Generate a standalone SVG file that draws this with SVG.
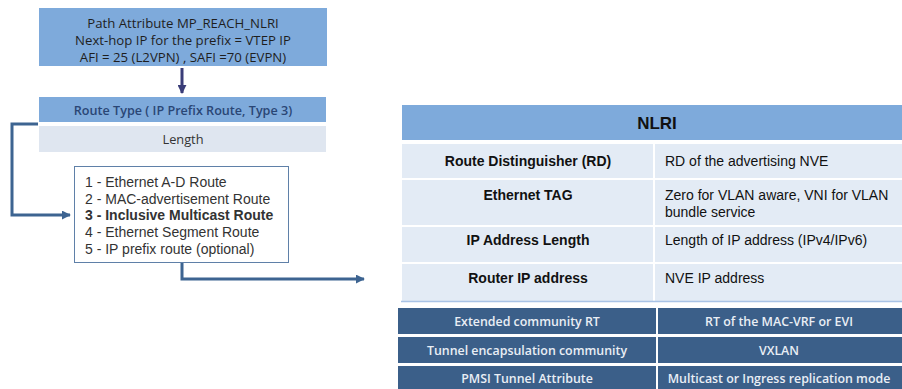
<svg xmlns="http://www.w3.org/2000/svg" width="902" height="389" viewBox="0 0 902 389">
<style>
.cal{font-family:"Open Sans","Liberation Sans",sans-serif}
.ar{font-family:"Liberation Sans",Arial,sans-serif}
.conn{fill:none;stroke:#3d6491;stroke-width:3}
.nl{fill:#e3ebf5}
.dk{fill:#3b5f89}
.lt{fill:#e9eef5;font-size:12.4px;font-weight:600;text-anchor:middle}
.lab{font-size:14px;font-weight:bold;fill:#111;text-anchor:middle}
.val{font-size:14px;fill:#111}
.li{font-size:14px;fill:#333}
.top{font-size:13.2px;fill:#1e1e1e;text-anchor:middle}
</style>
<defs>
<marker id="ah" viewBox="0 0 10 10" refX="9" refY="5" markerWidth="3" markerHeight="3" orient="auto" markerUnits="strokeWidth">
<path d="M0,0 L10,5 L0,10 z" fill="#3d6491"/>
</marker>
<marker id="ahd" viewBox="0 0 10 10" refX="9" refY="5" markerWidth="3" markerHeight="3" orient="auto" markerUnits="strokeWidth">
<path d="M0,0 L10,5 L0,10 z" fill="#3a3d78"/>
</marker>
</defs>
<rect width="902" height="389" fill="#fff"/>

<g id="path-attr">
<rect x="39" y="8" width="288" height="58" fill="#7eaadb"/>
<text class="cal top" x="183" y="28">Path Attribute MP_REACH_NLRI</text>
<text class="cal top" x="183" y="45">Next-hop  IP for the prefix = VTEP IP</text>
<text class="cal top" x="183" y="62">AFI = 25 (L2VPN) , SAFI =70 (EVPN)</text>
</g>

<g id="route-type">
<rect x="39" y="97" width="287" height="25" fill="#7eaadb"/>
<text class="cal" x="183" y="115" font-size="12.6" font-weight="600" fill="#2a4675" text-anchor="middle">Route Type ( IP Prefix Route, Type 3)</text>
</g>

<g id="length">
<rect x="39" y="126" width="287" height="26" fill="#dfe6f0"/>
<text class="cal" x="183" y="144" font-size="12.8" fill="#333" text-anchor="middle">Length</text>
</g>

<g id="route-list">
<rect x="74.5" y="166.5" width="214" height="96" fill="#fff" stroke="#5f80a8" stroke-width="1"/>
<text class="ar li" x="85" y="187">1 - Ethernet A-D Route</text>
<text class="ar li" x="85" y="204">2 - MAC-advertisement Route</text>
<text class="ar li" x="85" y="220" font-weight="bold">3 - Inclusive Multicast Route</text>
<text class="ar li" x="85" y="237">4 - Ethernet Segment Route</text>
<text class="ar li" x="85" y="254">5 - IP prefix route (optional)</text>
</g>

<g id="connectors">
<path class="conn" d="M38,124 H12 V215 H70" marker-end="url(#ah)"/>
<path class="conn" d="M182,263 V279 H364" marker-end="url(#ah)"/>
<path d="M182,68 V93" fill="none" stroke="#3a3d78" stroke-width="3" marker-end="url(#ahd)"/>
</g>

<g id="nlri-table">
<rect x="402" y="105" width="500" height="35" fill="#7eaadb"/>
<text class="ar" x="657" y="129" font-size="17" font-weight="bold" fill="#111" text-anchor="middle">NLRI</text>
<rect class="nl" x="402" y="144" width="251" height="34"/>
<rect class="nl" x="655" y="144" width="247" height="34"/>
<rect class="nl" x="402" y="180" width="251" height="45"/>
<rect class="nl" x="655" y="180" width="247" height="45"/>
<rect class="nl" x="402" y="227" width="251" height="35"/>
<rect class="nl" x="655" y="227" width="247" height="35"/>
<rect class="nl" x="402" y="264" width="251" height="37"/>
<rect class="nl" x="655" y="264" width="247" height="37"/>
<line x1="401" y1="301.5" x2="902" y2="301.5" stroke="#a9c3e6" stroke-width="1.5"/>
<text class="ar lab" x="528" y="166">Route Distinguisher (RD)</text>
<text class="ar lab" x="528" y="200">Ethernet TAG</text>
<text class="ar lab" x="528" y="245">IP Address Length</text>
<text class="ar lab" x="528" y="283">Router IP address</text>
<text class="ar val" x="665" y="166">RD of the advertising NVE</text>
<text class="ar val" x="665" y="200">Zero for VLAN aware, VNI for VLAN</text>
<text class="ar val" x="665" y="217">bundle service</text>
<text class="ar val" x="665" y="245">Length of IP address (IPv4/IPv6)</text>
<text class="ar val" x="665" y="283">NVE IP address</text>
</g>

<g id="attr-table">
<rect class="dk" x="398" y="308" width="258" height="26"/>
<rect class="dk" x="658" y="308" width="244" height="26"/>
<rect class="dk" x="398" y="337" width="258" height="26"/>
<rect class="dk" x="658" y="337" width="244" height="26"/>
<rect class="dk" x="398" y="366" width="258" height="23"/>
<rect class="dk" x="658" y="366" width="244" height="23"/>
<text class="cal lt" x="527" y="326">Extended community RT</text>
<text class="cal lt" x="779" y="326">RT of the  MAC-VRF or EVI</text>
<text class="cal lt" x="527" y="355">Tunnel encapsulation community</text>
<text class="cal lt" x="779" y="355">VXLAN</text>
<text class="cal lt" x="527" y="383">PMSI  Tunnel Attribute</text>
<text class="cal lt" x="779" y="383">Multicast or Ingress replication mode</text>
</g>
</svg>
